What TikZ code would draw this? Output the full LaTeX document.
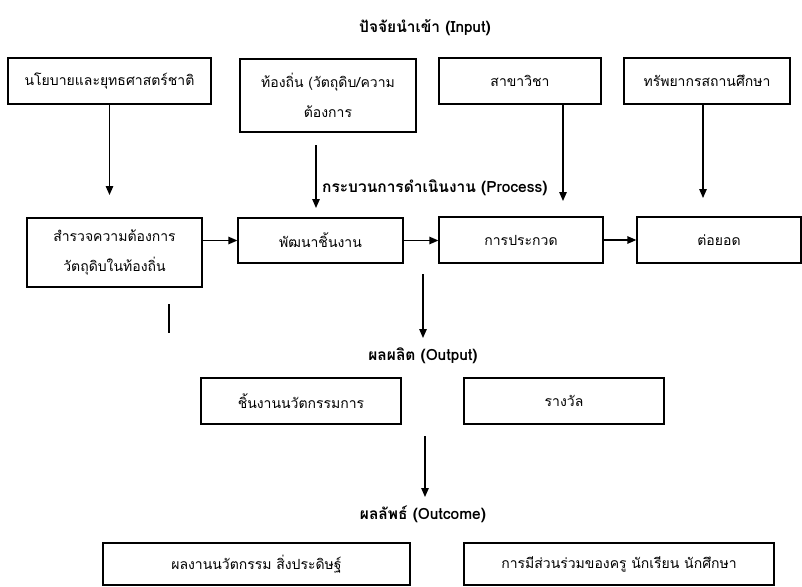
\documentclass[tikz,border=0pt]{standalone}
\usepackage{fontspec}
\newfontfamily\thaifont[Script=Thai]{Loma}
\usetikzlibrary{arrows.meta}
\tikzset{
  px/.style={x=1pt,y=-1pt},
  box/.style={draw,line width=1.3pt,inner sep=0pt,align=center,font=\thaifont\fontsize{14}{30}\selectfont},
  lbl/.style={inner sep=0pt,font=\thaifont\bfseries\fontsize{15.5}{17}\selectfont},
  arr/.style={line width=1.3pt,-{Triangle[length=9pt,width=7.5pt]}},
  plain/.style={line width=1.3pt}
}
\begin{document}
\begin{tikzpicture}[px]
\useasboundingbox (0,0) rectangle (802,586);
% title
\node[lbl] (tin) at (425,28) {ปัจจัยนำเข้า (Input)};
% input boxes
\node[box,minimum width=203pt,minimum height=46pt] (b1) at (109.5,81) {นโยบายและยุทธศาสตร์ชาติ};
\node[box,minimum width=176pt,minimum height=73pt] (b2) at (328,95.5) {ท้องถิ่น (วัตถุดิบ/ความ\\ต้องการ};
\node[box,minimum width=162pt,minimum height=46pt] (b3) at (520,81) {สาขาวิชา};
\node[box,minimum width=166pt,minimum height=46pt] (b4) at (707,81) {ทรัพยากรสถานศึกษา};
% process label
\node[lbl,anchor=west] (tproc) at (322,188) {กระบวนการดำเนินงาน (Process)};
% process boxes
\node[box,minimum width=175pt,minimum height=69pt] (b5) at (114.5,252.5) {สำรวจความต้องการ\\วัตถุดิบในท้องถิ่น};
\node[box,minimum width=165pt,minimum height=45pt] (b6) at (320.5,240.5) {พัฒนาชิ้นงาน};
\node[box,minimum width=164pt,minimum height=46pt] (b7) at (521,240) {การประกวด};
\node[box,minimum width=164pt,minimum height=46pt] (b8) at (719,240) {ต่อยอด};
% output
\node[lbl] (tout) at (423,356) {ผลผลิต (Output)};
\node[box,minimum width=200pt,minimum height=46pt] (b9) at (301,401) {ชิ้นงานนวัตกรรมการ};
\node[box,minimum width=200pt,minimum height=46pt] (b10) at (564,401) {รางวัล};
% outcome
\node[lbl] (toc) at (423,514) {ผลลัพธ์ (Outcome)};
\node[box,minimum width=307pt,minimum height=42pt] (b11) at (256.5,564) {ผลงานนวัตกรรม สิ่งประดิษฐ์};
\node[box,minimum width=310pt,minimum height=42pt] (b12) at (619,564) {การมีส่วนร่วมของครู นักเรียน นักศึกษา};
% coordinates for connector ends
\coordinate (e1) at (109.5,195);
\coordinate (s2) at (316,145);
\coordinate (e2) at (316,208);
\coordinate (s3) at (563,104);
\coordinate (e3) at (563,201);
\coordinate (s4) at (703,104);
\coordinate (e4) at (703,198);
\coordinate (s5) at (169,304);
\coordinate (e5) at (169,333);
\coordinate (s6) at (423,274);
\coordinate (e6) at (423,338);
\coordinate (s7) at (425,436);
\coordinate (e7) at (425,497);
% connectors
\draw[arr] (b1.south) -- (e1);
\draw[arr] (s2) -- (e2);
\draw[arr] (s3) -- (e3);
\draw[arr] (s4) -- (e4);
\draw[arr] (b5.east |- b6.west) -- (b6.west);
\draw[arr] (b6.east) -- (b7.west |- b6.east);
\draw[arr] (b7.east) -- (b8.west |- b7.east);
\draw[plain] (s5) -- (e5);
\draw[arr] (s6) -- (e6);
\draw[arr] (s7) -- (e7);
\end{tikzpicture}
\end{document}
